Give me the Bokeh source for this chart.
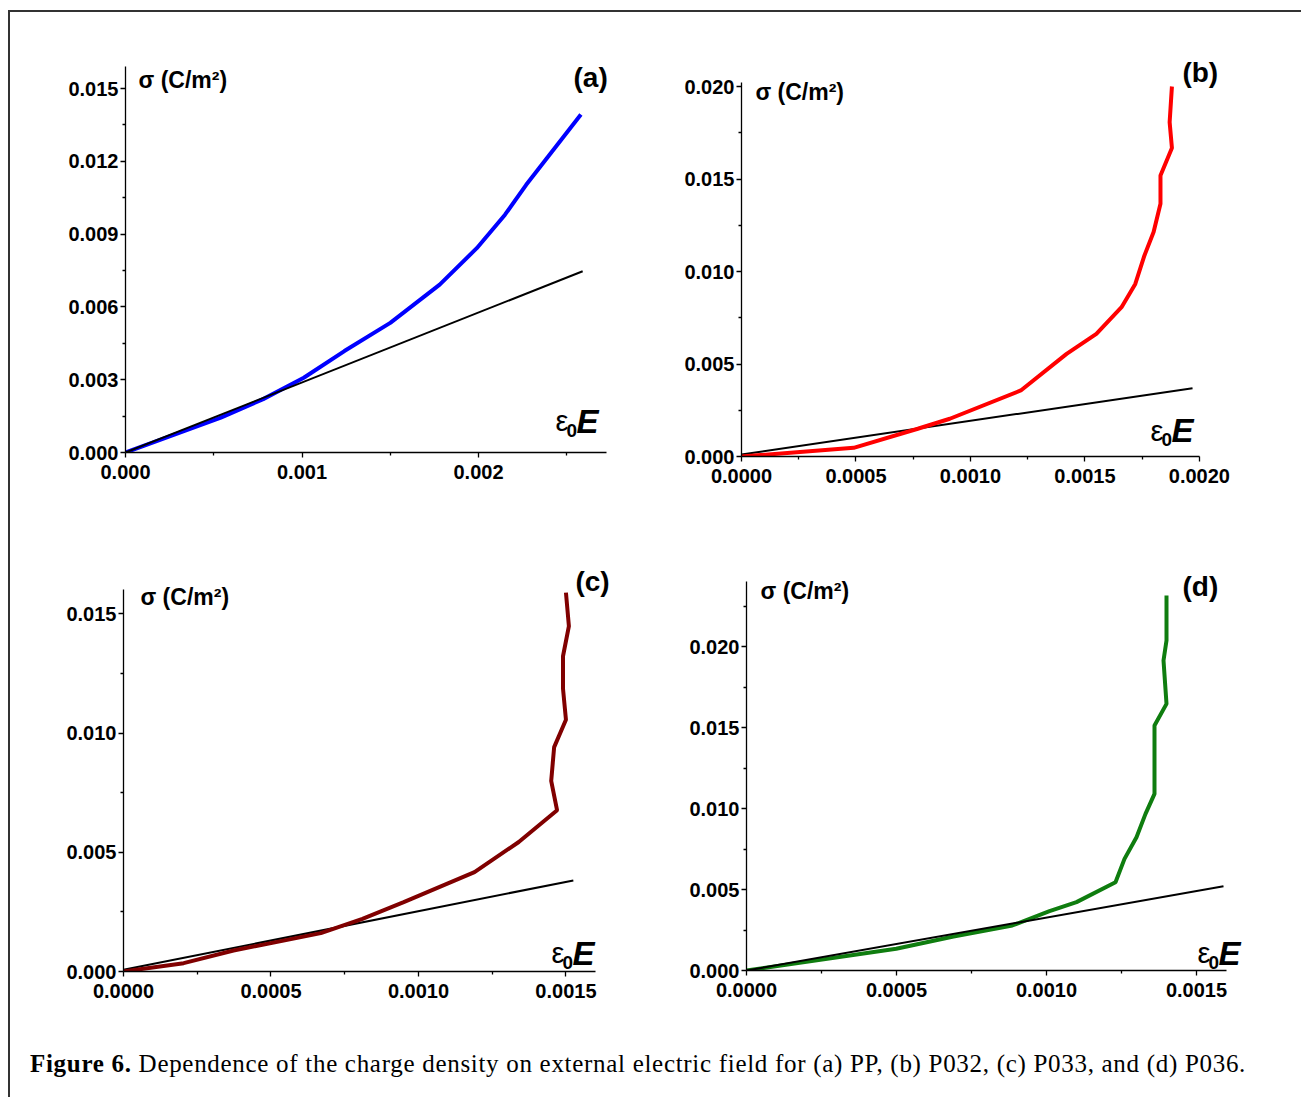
from bokeh.plotting import figure
from bokeh.models import FixedTicker, PrintfTickFormatter, Label, Div, Range1d
from bokeh.layouts import row, column
from bokeh.embed import file_html
from bokeh.resources import INLINE

# ---------------- data ----------------
# (a) PP
a_x = [0, 0.00054, 0.00078, 0.00101, 0.00124, 0.00150, 0.00178, 0.00199, 0.00215, 0.00227, 0.00258]
a_y = [0, 0.00144, 0.0022, 0.00308, 0.00418, 0.00534, 0.00692, 0.00842, 0.0098, 0.01103, 0.01393]
a_lin_x = [0, 0.00259]
a_lin_y = [0, 0.00747]

# (b) P032
b_x = [0, 0.00049, 0.00077, 0.00091, 0.00122, 0.00142, 0.00155, 0.00166, 0.00172, 0.00176,
       0.00180, 0.00183, 0.00183, 0.00188, 0.00187, 0.00188]
b_y = [0, 0.00047, 0.0015, 0.00204, 0.00357, 0.00555, 0.00663, 0.00807, 0.00933, 0.01087,
       0.01213, 0.01366, 0.01519, 0.01668, 0.01807, 0.0200]
b_lin_x = [0, 0.00197]
b_lin_y = [0.00011, 0.00369]

# (c) P033
c_x = [0, 0.000204, 0.000373, 0.000669, 0.00081, 0.00095, 0.00119, 0.00134, 0.00147, 0.00145,
       0.00146, 0.00150, 0.00149, 0.00149, 0.00151, 0.00150]
c_y = [0, 0.00035, 0.00088, 0.00161, 0.00221, 0.00291, 0.00417, 0.00543, 0.00676, 0.00799,
       0.00941, 0.01056, 0.01186, 0.01322, 0.01448, 0.01589]
c_lin_x = [0, 0.001525]
c_lin_y = [0.00007, 0.00382]

# (d) P036
d_x = [0, 0.000499, 0.00069, 0.000886, 0.00101, 0.0011, 0.00123, 0.00126, 0.0013, 0.00133,
       0.00136, 0.00136, 0.00136, 0.0014, 0.00139, 0.0014, 0.0014]
d_y = [0, 0.00134, 0.0021, 0.00278, 0.00366, 0.00422, 0.00545, 0.00689, 0.00823, 0.00967,
       0.0109, 0.01296, 0.01512, 0.01646, 0.01914, 0.02037, 0.02315]
d_lin_x = [0, 0.00159]
d_lin_y = [0, 0.0052]

# ticks
a_xticks = [0, 0.001, 0.002]
a_xminor = [0.0005, 0.0015, 0.0025]
a_yticks = [0, 0.003, 0.006, 0.009, 0.012, 0.015]
a_yminor = [0.0015, 0.0045, 0.0075, 0.0105, 0.0135]

b_xticks = [0, 0.0005, 0.001, 0.0015, 0.002]
b_xminor = [0.00025, 0.00075, 0.00125, 0.00175]
b_yticks = [0, 0.005, 0.01, 0.015, 0.02]
b_yminor = [0.0025, 0.0075, 0.0125, 0.0175]

c_xticks = [0, 0.0005, 0.001, 0.0015]
c_xminor = [0.00025, 0.00075, 0.00125]
c_yticks = [0, 0.005, 0.01, 0.015]
c_yminor = [0.0025, 0.0075, 0.0125]

d_xticks = [0, 0.0005, 0.001, 0.0015]
d_xminor = [0.00025, 0.00075, 0.00125]
d_yticks = [0, 0.005, 0.01, 0.015, 0.02]
d_yminor = [0.0025, 0.0075, 0.0125, 0.0175, 0.0225]

caption_bold = "Figure 6."
caption_rest = " Dependence of the charge density on external electric field for (a) PP, (b) P032, (c) P033, and (d) P036."

SANS = "Liberation Sans"


def panel(x, y, lx, ly, color, xr, yr, xb, yb, xt, xm, yt, ym, xfmt, yfmt, geom,
          sig_pos, sig_text, tag, tag_pos, eps_pos, black_on_top):
    left, top, fw, fh, right, bottom = geom
    p = figure(frame_width=fw, frame_height=fh, x_range=Range1d(*xr), y_range=Range1d(*yr),
               output_backend="svg", toolbar_location=None,
               min_border_left=left, min_border_top=top, min_border_right=right, min_border_bottom=bottom)
    p.outline_line_color = None
    p.xgrid.visible = False
    p.ygrid.visible = False
    p.background_fill_color = "white"
    p.border_fill_color = "white"

    if black_on_top:
        p.line(x, y, line_color=color, line_width=4)
        p.line(lx, ly, line_color="black", line_width=2)
    else:
        p.line(lx, ly, line_color="black", line_width=2)
        p.line(x, y, line_color=color, line_width=4)

    for ax, ticks, minor, fmt, bnd in ((p.xaxis[0], xt, xm, xfmt, xb), (p.yaxis[0], yt, ym, yfmt, yb)):
        ax.ticker = FixedTicker(ticks=ticks, minor_ticks=minor)
        ax.formatter = PrintfTickFormatter(format=fmt)
        ax.bounds = bnd
        ax.axis_line_width = 1.3
        ax.axis_line_color = "black"
        ax.major_tick_line_color = "black"
        ax.minor_tick_line_color = "black"
        ax.major_tick_line_width = 1.3
        ax.minor_tick_line_width = 1.3
        ax.major_tick_in = 0
        ax.major_tick_out = 5
        ax.minor_tick_in = 0
        ax.minor_tick_out = 3
        ax.major_label_text_font = SANS
        ax.major_label_text_font_style = "bold"
        ax.major_label_text_font_size = "20px"
        ax.major_label_text_color = "black"
    p.xaxis[0].major_label_standoff = 7
    p.yaxis[0].major_label_standoff = 2

    p.add_layout(Label(x=sig_pos[0], y=sig_pos[1], text=sig_text, text_font=SANS, text_font_style="bold",
                       text_font_size="23px", text_align="left", text_baseline="middle", text_color="black"))
    p.add_layout(Label(x=tag_pos[0], y=tag_pos[1], text=tag, text_font=SANS, text_font_style="bold",
                       text_font_size="28px", text_align="center", text_baseline="middle", text_color="black"))
    ex, ey = eps_pos
    p.add_layout(Label(x=ex, y=ey, text="ε", text_font=SANS, text_font_size="29px",
                       text_align="left", text_baseline="alphabetic", text_color="black"))
    p.add_layout(Label(x=ex, y=ey, x_offset=11, y_offset=-9, text="0", text_font=SANS, text_font_style="bold",
                       text_font_size="19px", text_align="left", text_baseline="alphabetic", text_color="black"))
    p.add_layout(Label(x=ex, y=ey, x_offset=21, text="E", text_font=SANS, text_font_style="bold italic",
                       text_font_size="33px", text_align="left", text_baseline="alphabetic", text_color="black"))
    return p


pa = panel(a_x, a_y, a_lin_x, a_lin_y, "#0000ff",
           (0, 0.002776), (0, 0.016566), (0, 0.002725), (0, 0.0159),
           a_xticks, a_xminor, a_yticks, a_yminor,
           "%.3f", "%.3f", (115, 38, 490, 402, 35, 68),
           (0.000074, 0.01537), "σ (C/m²)", "(a)", (0.002635, 0.01545), (0.002436, 0.00128), True)
pb = panel(b_x, b_y, b_lin_x, b_lin_y, "#ff0000",
           (0, 0.002114), (0, 0.021946), (0, 0.002), (0, 0.0202),
           b_xticks, b_xminor, b_yticks, b_yminor,
           "%.4f", "%.3f", (91, 38, 484, 406, 72, 64),
           (0.000061, 0.01968), "σ  (C/m²)", "(b)", (0.002004, 0.02076), (0.001786, 0.001405), False)
pc = panel(c_x, c_y, c_lin_x, c_lin_y, "#800000",
           (0, 0.001668), (0, 0.017235), (0, 0.0016), (0, 0.016),
           c_xticks, c_xminor, c_yticks, c_yminor,
           "%.4f", "%.3f", (113, 40, 492, 411, 35, 57),
           (0.0000576, 0.015725), "σ  (C/m²)", "(c)", (0.00159, 0.01635), (0.001451, 0.000755), False)
pd_ = panel(d_x, d_y, d_lin_x, d_lin_y, "#0f7d0f",
            (0, 0.00168), (0, 0.025309), (0, 0.0016), (0, 0.024),
            d_xticks, d_xminor, d_yticks, d_yminor,
            "%.4f", "%.3f", (96, 40, 504, 410, 47, 58),
            (0.0000467, 0.0234), "σ  (C/m²)", "(d)", (0.001513, 0.0237), (0.001503, 0.00105), True)

cap = Div(text=("<div style=\"font-family:'Liberation Serif','Times New Roman',serif;font-size:25px;"
                "letter-spacing:0.7px;color:#000;padding-left:15px;padding-top:13px;white-space:nowrap;\">"
                "<b>" + caption_bold + "</b>" + caption_rest + "</div>"),
          width=1287, height=69)

layout = column(row(pa, pb), row(pc, pd_), cap, margin=(10, 0, 0, 8),
                styles={"border-top": "2px solid #333", "border-left": "2px solid #333",
                        "border-right": "2px solid #333"})

open("out.html", "w").write(file_html(layout, INLINE))
